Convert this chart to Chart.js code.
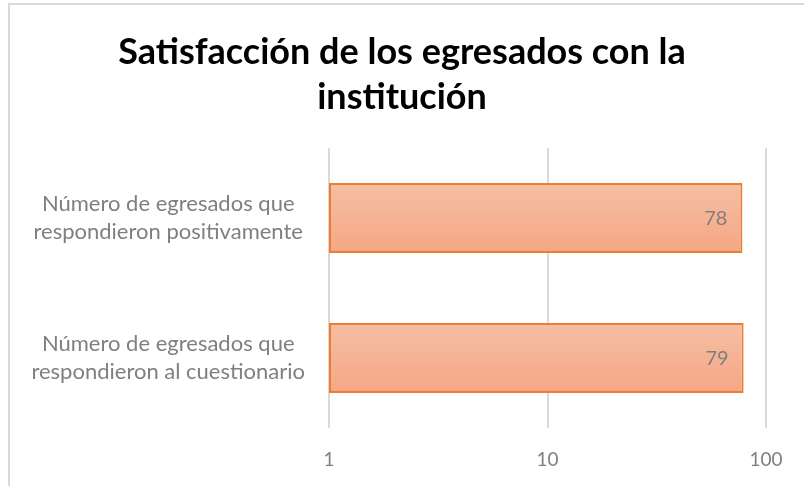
<!DOCTYPE html>
<html>
<head>
<meta charset="utf-8">
<script src="https://cdn.jsdelivr.net/npm/chart.js@4/dist/chart.umd.min.js"></script>
<style>
  html, body { margin: 0; padding: 0; background: #fff; overflow: hidden; }
  #wrap { position: relative; width: 804px; height: 486px; }
  #frame { position: absolute; left: 8px; top: 3px; width: 900px; height: 600px;
           border-left: 2px solid #d9d9d9; border-top: 2px solid #d9d9d9; }
  canvas { position: absolute; left: 0; top: 0; }
</style>
</head>
<body>
<div id="wrap">
  <div id="frame"></div>
  <canvas id="c" width="804" height="486"></canvas>
</div>
<script>
const titleLines = ['Satisfacción de los egresados con la', 'institución'];
const categories = [
  ['Número de egresados que', 'respondieron positivamente'],
  ['Número de egresados que', 'respondieron al cuestionario']
];
const values = [78, 79];
const xTicks = [1, 10, 100];

const FONT = 'Lato, "Open Sans", sans-serif';
const GRAY = '#7f7f7f';

const valueLabels = {
  id: 'valueLabels',
  afterDatasetsDraw(chart) {
    const ctx = chart.ctx;
    const meta = chart.getDatasetMeta(0);
    ctx.save();
    ctx.font = '20px ' + FONT;
    ctx.fillStyle = GRAY;
    ctx.textAlign = 'right';
    ctx.textBaseline = 'middle';
    meta.data.forEach((bar, i) => {
      ctx.fillText(String(values[i]), bar.x - 15, bar.y + 1);
    });
    ctx.restore();
  }
};

function barGradient(context) {
  const chart = context.chart;
  const ys = chart.scales && chart.scales.y;
  if (!chart.chartArea || !ys || context.dataIndex === undefined) return '#f5b293';
  const c = ys.getPixelForValue(context.dataIndex);
  const band = Math.abs(ys.getPixelForValue(1) - ys.getPixelForValue(0)) || 140;
  const half = band * 0.25;
  if (!Number.isFinite(c) || !Number.isFinite(half)) return '#f5b293';
  const g = chart.ctx.createLinearGradient(0, c - half, 0, c + half);
  g.addColorStop(0, '#f6bea3');
  g.addColorStop(1, '#f5a785');
  return g;
}

new Chart(document.getElementById('c'), {
  type: 'bar',
  data: {
    labels: categories,
    datasets: [{
      data: values,
      backgroundColor: barGradient,
      borderColor: '#ed7d31',
      borderWidth: 2,
      borderSkipped: false,
      barPercentage: 0.5,
      categoryPercentage: 1.0
    }]
  },
  options: {
    indexAxis: 'y',
    responsive: false,
    animation: false,
    layout: { padding: 0 },
    plugins: {
      legend: { display: false },
      tooltip: { enabled: false },
      title: {
        display: true,
        text: titleLines,
        color: '#000',
        font: { family: FONT, size: 36, weight: 'bold', lineHeight: 1.25 },
        padding: { top: 30, bottom: 28 }
      }
    },
    scales: {
      x: {
        type: 'logarithmic',
        position: 'bottom',
        min: 1,
        max: 100,
        afterBuildTicks(scale) { scale.ticks = xTicks.map(v => ({ value: v })); },
        afterFit(scale) { scale.height = 58; },
        ticks: {
          color: GRAY,
          font: { family: FONT, size: 19 },
          padding: 20,
          callback: (v) => String(v)
        },
        grid: { color: '#d9d9d9', lineWidth: 2, drawTicks: false },
        border: { display: false }
      },
      y: {
        position: 'left',
        afterFit(scale) { scale.width = 329; },
        ticks: {
          color: GRAY,
          font: { family: FONT, size: 22, lineHeight: 1.25 },
          crossAlign: 'center',
          padding: 24
        },
        grid: { display: false, drawTicks: false },
        border: { display: false }
      },
      yRight: {
        type: 'category',
        position: 'right',
        afterFit(scale) { scale.width = 38; },
        ticks: { display: false },
        grid: { display: false, drawTicks: false },
        border: { display: false }
      }
    }
  },
  plugins: [valueLabels]
});
</script>
</body>
</html>
